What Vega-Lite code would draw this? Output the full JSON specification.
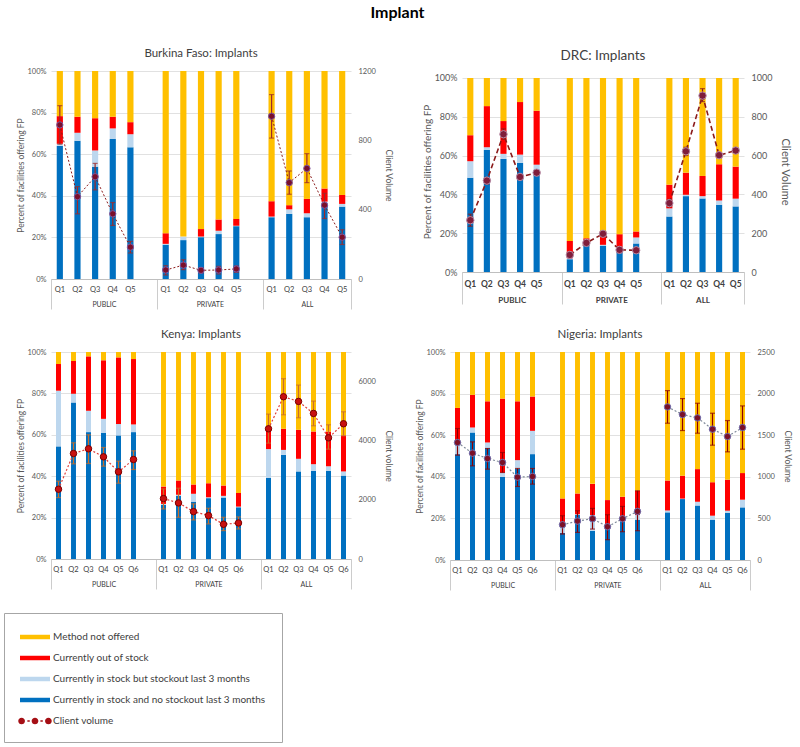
{
  "$schema": "https://vega.github.io/schema/vega-lite/v6.json",
  "background": "white",
  "padding": {"left": 3, "top": 4, "right": 3, "bottom": 2},
  "title": {"text": "Implant", "fontSize": 16, "fontWeight": "bold", "color": "#000000", "font": "Lato", "anchor": "middle", "offset": 27},
  "config": {
    "font": "Lato",
    "view": {"stroke": null},
    "axis": {"labelColor": "#595959", "titleColor": "#595959", "titleFontWeight": "normal", "domain": false, "ticks": false, "gridColor": "#D9D9D9", "gridWidth": 0.8, "labelFont": "Lato", "titleFont": "Lato", "labelOverlap": false},
    "title": {"color": "#595959", "fontWeight": "normal", "font": "Lato"}
  },
  "datasets": {
    "d": [
      {"c":"BF","g":"PUBLIC","k":"PUBLIC|Q1","b":64,"l":65,"r":78.3,"t":100,"cv":889,"lo":778,"hi":1000},
      {"c":"BF","g":"PUBLIC","k":"PUBLIC|Q2","b":66.5,"l":70.3,"r":78,"t":100,"cv":475,"lo":376,"hi":533},
      {"c":"BF","g":"PUBLIC","k":"PUBLIC|Q3","b":54,"l":61.8,"r":77.3,"t":100,"cv":590,"lo":514,"hi":667},
      {"c":"BF","g":"PUBLIC","k":"PUBLIC|Q4","b":67.3,"l":72.4,"r":78,"t":100,"cv":376,"lo":309,"hi":441},
      {"c":"BF","g":"PUBLIC","k":"PUBLIC|Q5","b":63.3,"l":69.6,"r":75.4,"t":100,"cv":184,"lo":150,"hi":217},
      {"c":"BF","g":"PRIVATE","k":"PRIVATE|Q1","b":16.5,"l":16.9,"r":22,"t":100,"cv":52,"lo":23,"hi":77},
      {"c":"BF","g":"PRIVATE","k":"PRIVATE|Q2","b":18.7,"l":20.4,"r":20.4,"t":100,"cv":80,"lo":54,"hi":111},
      {"c":"BF","g":"PRIVATE","k":"PRIVATE|Q3","b":20.1,"l":20.4,"r":24,"t":100,"cv":50,"lo":35,"hi":65},
      {"c":"BF","g":"PRIVATE","k":"PRIVATE|Q4","b":21.6,"l":23.2,"r":28.6,"t":100,"cv":52,"lo":29,"hi":73},
      {"c":"BF","g":"PRIVATE","k":"PRIVATE|Q5","b":25.4,"l":25.6,"r":28.9,"t":100,"cv":58,"lo":38,"hi":75},
      {"c":"BF","g":"ALL","k":"ALL|Q1","b":29.7,"l":30,"r":37.4,"t":100,"cv":939,"lo":813,"hi":1064},
      {"c":"BF","g":"ALL","k":"ALL|Q2","b":31.3,"l":33.5,"r":35.5,"t":100,"cv":556,"lo":489,"hi":623},
      {"c":"BF","g":"ALL","k":"ALL|Q3","b":29.7,"l":31.6,"r":38.5,"t":100,"cv":638,"lo":556,"hi":723},
      {"c":"BF","g":"ALL","k":"ALL|Q4","b":35.5,"l":37.2,"r":43.5,"t":100,"cv":426,"lo":349,"hi":494},
      {"c":"BF","g":"ALL","k":"ALL|Q5","b":34.8,"l":36.1,"r":40.4,"t":100,"cv":241,"lo":199,"hi":284},

      {"c":"DRC","g":"PUBLIC","k":"PUBLIC|Q1","b":48.6,"l":57.1,"r":70.5,"t":100,"cv":267,"lo":236,"hi":298},
      {"c":"DRC","g":"PUBLIC","k":"PUBLIC|Q2","b":62.9,"l":64.3,"r":85.5,"t":100,"cv":471,"lo":453,"hi":488},
      {"c":"DRC","g":"PUBLIC","k":"PUBLIC|Q3","b":58.3,"l":60.9,"r":77.8,"t":100,"cv":710,"lo":684,"hi":738},
      {"c":"DRC","g":"PUBLIC","k":"PUBLIC|Q4","b":56.2,"l":60.5,"r":87.6,"t":100,"cv":490,"lo":480,"hi":500},
      {"c":"DRC","g":"PUBLIC","k":"PUBLIC|Q5","b":52.2,"l":55.3,"r":83.1,"t":100,"cv":512,"lo":502,"hi":522},
      {"c":"DRC","g":"PRIVATE","k":"PRIVATE|Q1","b":6.6,"l":7.1,"r":16,"t":100,"cv":88,"lo":80,"hi":96},
      {"c":"DRC","g":"PRIVATE","k":"PRIVATE|Q2","b":14,"l":14.7,"r":17.4,"t":100,"cv":150,"lo":142,"hi":158},
      {"c":"DRC","g":"PRIVATE","k":"PRIVATE|Q3","b":13.6,"l":14,"r":20.2,"t":100,"cv":197,"lo":188,"hi":206},
      {"c":"DRC","g":"PRIVATE","k":"PRIVATE|Q4","b":11.7,"l":12.2,"r":19.5,"t":100,"cv":114,"lo":106,"hi":122},
      {"c":"DRC","g":"PRIVATE","k":"PRIVATE|Q5","b":14.7,"l":17.8,"r":20.9,"t":100,"cv":112,"lo":104,"hi":120},
      {"c":"DRC","g":"ALL","k":"ALL|Q1","b":28.6,"l":32.8,"r":45,"t":100,"cv":355,"lo":336,"hi":374},
      {"c":"DRC","g":"ALL","k":"ALL|Q2","b":39.1,"l":39.8,"r":51.2,"t":100,"cv":622,"lo":600,"hi":643},
      {"c":"DRC","g":"ALL","k":"ALL|Q3","b":37.9,"l":39.1,"r":49.5,"t":100,"cv":909,"lo":878,"hi":945},
      {"c":"DRC","g":"ALL","k":"ALL|Q4","b":34.7,"l":36.9,"r":55.5,"t":100,"cv":602,"lo":592,"hi":612},
      {"c":"DRC","g":"ALL","k":"ALL|Q5","b":33.8,"l":37.8,"r":54.3,"t":100,"cv":626,"lo":616,"hi":636},

      {"c":"KE","g":"PUBLIC","k":"PUBLIC|Q1","b":54.4,"l":81.3,"r":94.2,"t":100,"cv":2360,"lo":2077,"hi":2631},
      {"c":"KE","g":"PUBLIC","k":"PUBLIC|Q2","b":75.6,"l":79.8,"r":95.6,"t":100,"cv":3568,"lo":3218,"hi":3929},
      {"c":"KE","g":"PUBLIC","k":"PUBLIC|Q3","b":61.3,"l":71.6,"r":97.9,"t":100,"cv":3726,"lo":3229,"hi":4200},
      {"c":"KE","g":"PUBLIC","k":"PUBLIC|Q4","b":61,"l":67.7,"r":96,"t":100,"cv":3455,"lo":3139,"hi":3771},
      {"c":"KE","g":"PUBLIC","k":"PUBLIC|Q5","b":59.7,"l":65.2,"r":97.4,"t":100,"cv":2947,"lo":2563,"hi":3308},
      {"c":"KE","g":"PUBLIC","k":"PUBLIC|Q6","b":61.3,"l":65,"r":96.6,"t":100,"cv":3365,"lo":3026,"hi":3658},
      {"c":"KE","g":"PRIVATE","k":"PRIVATE|Q1","b":26.1,"l":26.6,"r":35,"t":100,"cv":2044,"lo":1694,"hi":2371},
      {"c":"KE","g":"PRIVATE","k":"PRIVATE|Q2","b":30.6,"l":31,"r":37.9,"t":100,"cv":1897,"lo":1411,"hi":2394},
      {"c":"KE","g":"PRIVATE","k":"PRIVATE|Q3","b":27.7,"l":31.5,"r":36,"t":100,"cv":1603,"lo":1321,"hi":1863},
      {"c":"KE","g":"PRIVATE","k":"PRIVATE|Q4","b":29.4,"l":29.8,"r":36.6,"t":100,"cv":1468,"lo":1186,"hi":1716},
      {"c":"KE","g":"PRIVATE","k":"PRIVATE|Q5","b":29.7,"l":30.5,"r":35.5,"t":100,"cv":1174,"lo":960,"hi":1411},
      {"c":"KE","g":"PRIVATE","k":"PRIVATE|Q6","b":25,"l":25.3,"r":31.9,"t":100,"cv":1219,"lo":1016,"hi":1423},
      {"c":"KE","g":"ALL","k":"ALL|Q1","b":39.2,"l":53.1,"r":63.7,"t":100,"cv":4403,"lo":3918,"hi":4900},
      {"c":"KE","g":"ALL","k":"ALL|Q2","b":50.3,"l":52.7,"r":62.9,"t":100,"cv":5487,"lo":4877,"hi":6097},
      {"c":"KE","g":"ALL","k":"ALL|Q3","b":42.3,"l":48.4,"r":62.4,"t":100,"cv":5329,"lo":4776,"hi":5882},
      {"c":"KE","g":"ALL","k":"ALL|Q4","b":42.6,"l":45.8,"r":61.6,"t":100,"cv":4923,"lo":4505,"hi":5340},
      {"c":"KE","g":"ALL","k":"ALL|Q5","b":42.6,"l":44.8,"r":61.6,"t":100,"cv":4098,"lo":3714,"hi":4539},
      {"c":"KE","g":"ALL","k":"ALL|Q6","b":40.3,"l":42.3,"r":59.7,"t":100,"cv":4573,"lo":4166,"hi":4979},

      {"c":"NG","g":"PUBLIC","k":"PUBLIC|Q1","b":50.9,"l":56.8,"r":73.1,"t":100,"cv":1412,"lo":1260,"hi":1580},
      {"c":"NG","g":"PUBLIC","k":"PUBLIC|Q2","b":61.3,"l":63.7,"r":79.4,"t":100,"cv":1284,"lo":1132,"hi":1420},
      {"c":"NG","g":"PUBLIC","k":"PUBLIC|Q3","b":53.8,"l":56.5,"r":76.3,"t":100,"cv":1220,"lo":1092,"hi":1340},
      {"c":"NG","g":"PUBLIC","k":"PUBLIC|Q4","b":40,"l":42,"r":77.6,"t":100,"cv":1172,"lo":1052,"hi":1292},
      {"c":"NG","g":"PUBLIC","k":"PUBLIC|Q5","b":44,"l":48,"r":76.3,"t":100,"cv":996,"lo":884,"hi":1100},
      {"c":"NG","g":"PUBLIC","k":"PUBLIC|Q6","b":50.9,"l":62.1,"r":78.6,"t":100,"cv":1004,"lo":912,"hi":1100},
      {"c":"NG","g":"PRIVATE","k":"PRIVATE|Q1","b":13,"l":16,"r":29.6,"t":100,"cv":424,"lo":312,"hi":532},
      {"c":"NG","g":"PRIVATE","k":"PRIVATE|Q2","b":21.6,"l":22,"r":32,"t":100,"cv":468,"lo":332,"hi":592},
      {"c":"NG","g":"PRIVATE","k":"PRIVATE|Q3","b":14,"l":21.6,"r":36.6,"t":100,"cv":496,"lo":372,"hi":620},
      {"c":"NG","g":"PRIVATE","k":"PRIVATE|Q4","b":15,"l":15.7,"r":28.8,"t":100,"cv":400,"lo":244,"hi":544},
      {"c":"NG","g":"PRIVATE","k":"PRIVATE|Q5","b":18.6,"l":19.7,"r":30.4,"t":100,"cv":496,"lo":340,"hi":644},
      {"c":"NG","g":"PRIVATE","k":"PRIVATE|Q6","b":19.4,"l":21.6,"r":33.3,"t":100,"cv":584,"lo":352,"hi":832},
      {"c":"NG","g":"ALL","k":"ALL|Q1","b":22.9,"l":23.8,"r":38.2,"t":100,"cv":1840,"lo":1644,"hi":2036},
      {"c":"NG","g":"ALL","k":"ALL|Q2","b":29.3,"l":29.5,"r":40.5,"t":100,"cv":1748,"lo":1556,"hi":1940},
      {"c":"NG","g":"ALL","k":"ALL|Q3","b":26.2,"l":28,"r":43.7,"t":100,"cv":1708,"lo":1524,"hi":1884},
      {"c":"NG","g":"ALL","k":"ALL|Q4","b":19.4,"l":21.3,"r":37.4,"t":100,"cv":1572,"lo":1380,"hi":1764},
      {"c":"NG","g":"ALL","k":"ALL|Q5","b":22.6,"l":23.7,"r":38.6,"t":100,"cv":1484,"lo":1300,"hi":1676},
      {"c":"NG","g":"ALL","k":"ALL|Q6","b":25.3,"l":29,"r":41.8,"t":100,"cv":1592,"lo":1332,"hi":1852}
    ]
  },
  "vconcat": [
    {
      "spacing": 29,
      "align": "none",
      "hconcat": [
        {
          "title": {"text": "Burkina Faso: Implants", "fontSize": 11.5, "offset": 8, "color": "#404040"},
          "width": 300, "height": 208,
          "data": {"name": "d"},
          "transform": [{"filter": "datum.c === 'BF'"}],
          "layer": [
            {
              "encoding": {"x": {"field": "k", "type": "ordinal",
                "scale": {"domain": ["PUBLIC|Q1","PUBLIC|Q2","PUBLIC|Q3","PUBLIC|Q4","PUBLIC|Q5","gap1","PRIVATE|Q1","PRIVATE|Q2","PRIVATE|Q3","PRIVATE|Q4","PRIVATE|Q5","gap2","ALL|Q1","ALL|Q2","ALL|Q3","ALL|Q4","ALL|Q5"], "paddingInner": 0.65, "paddingOuter": 0.325},
                "axis": {"title": null, "labelAngle": 0, "labelExpr": "indexof(datum.value, '|') > 0 ? substring(datum.value, indexof(datum.value, '|') + 1) : ''", "domain": true, "domainColor": "#BFBFBF", "ticks": false, "grid": false, "labelFontSize": 7.5, "labelPadding": 6, "labelColor": "#404040"}}},
              "layer": [
                {
                  "layer": [
                    {"mark": {"type": "bar"}, "encoding": {
                      "y": {"field": "b", "type": "quantitative", "scale": {"domain": [0, 100], "nice": false},
                        "axis": {"orient": "left", "title": "Percent of facilities  offering FP", "values": [0,10,20,30,40,50,60,70,80,90,100], "labelExpr": "datum.value + '%'", "grid": true, "labelFontSize": 7.5, "titleFontSize": 8.5, "labelPadding": 5, "titlePadding": 1}},
                      "color": {"datum": "Currently in stock and no stockout last 3 months", "type": "nominal",
                        "scale": {"domain": ["Method not offered", "Currently out of stock", "Currently in stock but stockout  last 3 months", "Currently in stock and no stockout last 3 months", "Client volume"], "range": ["#FFC000", "#FF0000", "#BDD7EE", "#0070C0", "#A50F15"]},
                        "legend": {"title": null, "orient": "none", "legendX": -47, "legendY": 542, "direction": "vertical", "strokeColor": "#A6A6A6", "padding": 16, "labelFontSize": 10, "labelColor": "#404040", "labelFont": "Lato", "labelLimit": 400, "symbolSize": 256, "symbolStrokeWidth": 0, "rowPadding": 8, "labelOffset": 17,
                          "encode": {"symbols": {"update": {"shape": {"signal": "datum.value === 'Client volume' ? 'M-1.22,0a0.42,0.42 0 1,0 0.84,0a0.42,0.42 0 1,0 -0.84,0Z M0.455,0a0.42,0.42 0 1,0 0.84,0a0.42,0.42 0 1,0 -0.84,0Z M2.13,0a0.42,0.42 0 1,0 0.84,0a0.42,0.42 0 1,0 -0.84,0Z M-0.08,-0.1h0.3v0.2h-0.3Z M1.55,-0.1h0.3v0.2h-0.3Z' : 'M-1,-0.28H2.75V0.28H-1Z'"}}}}}}}},
                    {"mark": {"type": "bar"}, "encoding": {"y": {"field": "l", "type": "quantitative"}, "y2": {"field": "b"}, "color": {"datum": "Currently in stock but stockout  last 3 months", "type": "nominal"}}},
                    {"mark": {"type": "bar"}, "encoding": {"y": {"field": "r", "type": "quantitative"}, "y2": {"field": "l"}, "color": {"datum": "Currently out of stock", "type": "nominal"}}},
                    {"mark": {"type": "bar"}, "encoding": {"y": {"field": "t", "type": "quantitative"}, "y2": {"field": "r"}, "color": {"datum": "Method not offered", "type": "nominal"}}}
                  ]
                },
                {
                  "layer": [
                    {"mark": {"type": "rule", "color": "#9C2A2A", "strokeWidth": 1.2}, "encoding": {
                      "y": {"field": "lo", "type": "quantitative", "scale": {"domain": [0, 1200], "nice": false},
                        "axis": {"orient": "right", "title": "Client Volume", "format": "d", "values": [0,200,400,600,800,1000,1200], "grid": false, "labelFontSize": 7.5, "titleFontSize": 8.5, "labelPadding": 7, "titlePadding": 8}},
                      "y2": {"field": "hi"}}},
                    {"mark": {"type": "tick", "color": "#9C2A2A", "size": 5, "thickness": 1.2}, "encoding": {"y": {"field": "lo", "type": "quantitative"}}},
                    {"mark": {"type": "tick", "color": "#9C2A2A", "size": 5, "thickness": 1.2}, "encoding": {"y": {"field": "hi", "type": "quantitative"}}},
                    {"mark": {"type": "line", "color": "#8B1A1A", "strokeDash": [2, 2], "strokeWidth": 1}, "encoding": {"y": {"field": "cv", "type": "quantitative"}, "detail": {"field": "g", "type": "nominal"}}},
                    {"mark": {"type": "point", "filled": true, "fill": "#7A0F2A", "stroke": "#7E57A0", "strokeWidth": 1, "size": 40, "opacity": 1}, "encoding": {"y": {"field": "cv", "type": "quantitative"}}}
                  ]
                }
              ],
              "resolve": {"scale": {"y": "independent"}}
            },
            {
              "mark": {"type": "rule", "opacity": 0},
              "encoding": {"x": {"datum": 0, "type": "quantitative", "scale": {"domain": [0, 17], "nice": false, "zero": false},
                "axis": {"orient": "bottom", "values": [0,3,6,9,12,14.5,17], "title": null, "grid": false, "domain": false, "ticks": true, "tickSize": 30, "tickColor": "#BFBFBF", "tickWidth": 0.8,
                  "tickOpacity": {"condition": {"test": "datum.value == 3 || datum.value == 9 || datum.value == 14.5", "value": 0}, "value": 1},
                  "labelExpr": "datum.value == 3 ? 'PUBLIC' : datum.value == 9 ? 'PRIVATE' : datum.value == 14.5 ? 'ALL' : ''",
                  "labelPadding": -9, "labelFlush": false, "labelFontSize": 7, "labelColor": "#404040"}}}
            }
          ],
          "resolve": {"scale": {"x": "independent"}}
        },
        {
          "title": {"text": "DRC: Implants", "fontSize": 13.5, "offset": 9, "color": "#404040"},
          "width": 282, "height": 201,
          "data": {"name": "d"},
          "transform": [{"filter": "datum.c === 'DRC'"}],
          "layer": [
            {
              "encoding": {"x": {"field": "k", "type": "ordinal",
                "scale": {"domain": ["PUBLIC|Q1","PUBLIC|Q2","PUBLIC|Q3","PUBLIC|Q4","PUBLIC|Q5","gap1","PRIVATE|Q1","PRIVATE|Q2","PRIVATE|Q3","PRIVATE|Q4","PRIVATE|Q5","gap2","ALL|Q1","ALL|Q2","ALL|Q3","ALL|Q4","ALL|Q5"], "paddingInner": 0.63, "paddingOuter": 0.315},
                "axis": {"title": null, "labelAngle": 0, "labelExpr": "indexof(datum.value, '|') > 0 ? substring(datum.value, indexof(datum.value, '|') + 1) : ''", "domain": true, "domainColor": "#BFBFBF", "ticks": false, "grid": false, "labelFontSize": 8.5, "labelFontWeight": "bold", "labelPadding": 7, "labelColor": "#404040"}}},
              "layer": [
                {
                  "layer": [
                    {"mark": {"type": "bar"}, "encoding": {
                      "y": {"field": "b", "type": "quantitative", "scale": {"domain": [0, 103.6], "nice": false},
                        "axis": {"orient": "left", "title": "Percent of facilities  offering FP", "values": [0,10,20,30,40,50,60,70,80,90,100], "labelExpr": "datum.value + '%'", "grid": true, "labelFontSize": 9, "titleFontSize": 10, "labelPadding": 5, "titlePadding": 2}},
                      "color": {"datum": "Currently in stock and no stockout last 3 months", "type": "nominal"}}},
                    {"mark": {"type": "bar"}, "encoding": {"y": {"field": "l", "type": "quantitative"}, "y2": {"field": "b"}, "color": {"datum": "Currently in stock but stockout  last 3 months", "type": "nominal"}}},
                    {"mark": {"type": "bar"}, "encoding": {"y": {"field": "r", "type": "quantitative"}, "y2": {"field": "l"}, "color": {"datum": "Currently out of stock", "type": "nominal"}}},
                    {"mark": {"type": "bar"}, "encoding": {"y": {"field": "t", "type": "quantitative"}, "y2": {"field": "r"}, "color": {"datum": "Method not offered", "type": "nominal"}}}
                  ]
                },
                {
                  "layer": [
                    {"mark": {"type": "rule", "color": "#8B1A1A", "strokeWidth": 1.2}, "encoding": {
                      "y": {"field": "lo", "type": "quantitative", "scale": {"domain": [0, 1036], "nice": false},
                        "axis": {"orient": "right", "title": "Client Volume", "format": "d", "values": [0,100,200,300,400,500,600,700,800,900,1000], "grid": false, "labelFontSize": 9, "titleFontSize": 11, "labelPadding": 7, "titlePadding": 8}},
                      "y2": {"field": "hi"}}},
                    {"mark": {"type": "tick", "color": "#8B1A1A", "size": 5, "thickness": 1.2}, "encoding": {"y": {"field": "lo", "type": "quantitative"}}},
                    {"mark": {"type": "tick", "color": "#8B1A1A", "size": 5, "thickness": 1.2}, "encoding": {"y": {"field": "hi", "type": "quantitative"}}},
                    {"mark": {"type": "line", "color": "#8B1A1A", "strokeDash": [5, 3], "strokeWidth": 1.6}, "encoding": {"y": {"field": "cv", "type": "quantitative"}, "detail": {"field": "g", "type": "nominal"}}},
                    {"mark": {"type": "point", "filled": true, "fill": "#7F1D3A", "stroke": "#B58AA5", "strokeWidth": 1, "size": 55, "opacity": 1}, "encoding": {"y": {"field": "cv", "type": "quantitative"}}}
                  ]
                }
              ],
              "resolve": {"scale": {"y": "independent"}}
            },
            {
              "mark": {"type": "rule", "opacity": 0},
              "encoding": {"x": {"datum": 0, "type": "quantitative", "scale": {"domain": [0, 17], "nice": false, "zero": false},
                "axis": {"orient": "bottom", "values": [0,3,6,9,12,14.5,17], "title": null, "grid": false, "domain": false, "ticks": true, "tickSize": 32, "tickColor": "#BFBFBF", "tickWidth": 0.8,
                  "tickOpacity": {"condition": {"test": "datum.value == 3 || datum.value == 9 || datum.value == 14.5", "value": 0}, "value": 1},
                  "labelExpr": "datum.value == 3 ? 'PUBLIC' : datum.value == 9 ? 'PRIVATE' : datum.value == 14.5 ? 'ALL' : ''",
                  "labelPadding": -8, "labelFlush": false, "labelFontSize": 8, "labelFontWeight": "bold", "labelColor": "#404040"}}}
            }
          ],
          "resolve": {"scale": {"x": "independent"}}
        }
      ]
    },
    {
      "spacing": 22,
      "hconcat": [
        {
          "title": {"text": "Kenya: Implants", "fontSize": 11.5, "offset": 8, "color": "#404040"},
          "width": 300, "height": 207,
          "data": {"name": "d"},
          "transform": [{"filter": "datum.c === 'KE'"}],
          "layer": [
            {
              "encoding": {"x": {"field": "k", "type": "ordinal",
                "scale": {"domain": ["PUBLIC|Q1","PUBLIC|Q2","PUBLIC|Q3","PUBLIC|Q4","PUBLIC|Q5","PUBLIC|Q6","gap1","PRIVATE|Q1","PRIVATE|Q2","PRIVATE|Q3","PRIVATE|Q4","PRIVATE|Q5","PRIVATE|Q6","gap2","ALL|Q1","ALL|Q2","ALL|Q3","ALL|Q4","ALL|Q5","ALL|Q6"], "paddingInner": 0.67, "paddingOuter": 0.335},
                "axis": {"title": null, "labelAngle": 0, "labelExpr": "indexof(datum.value, '|') > 0 ? substring(datum.value, indexof(datum.value, '|') + 1) : ''", "domain": true, "domainColor": "#BFBFBF", "ticks": false, "grid": false, "labelFontSize": 7.5, "labelPadding": 6, "labelColor": "#404040"}}},
              "layer": [
                {
                  "layer": [
                    {"mark": {"type": "bar"}, "encoding": {
                      "y": {"field": "b", "type": "quantitative", "scale": {"domain": [0, 100], "nice": false},
                        "axis": {"orient": "left", "title": "Percent of facilities  offering FP", "values": [0,10,20,30,40,50,60,70,80,90,100], "labelExpr": "datum.value + '%'", "grid": true, "labelFontSize": 7.5, "titleFontSize": 8.5, "labelPadding": 5, "titlePadding": 1}},
                      "color": {"datum": "Currently in stock and no stockout last 3 months", "type": "nominal"}}},
                    {"mark": {"type": "bar"}, "encoding": {"y": {"field": "l", "type": "quantitative"}, "y2": {"field": "b"}, "color": {"datum": "Currently in stock but stockout  last 3 months", "type": "nominal"}}},
                    {"mark": {"type": "bar"}, "encoding": {"y": {"field": "r", "type": "quantitative"}, "y2": {"field": "l"}, "color": {"datum": "Currently out of stock", "type": "nominal"}}},
                    {"mark": {"type": "bar"}, "encoding": {"y": {"field": "t", "type": "quantitative"}, "y2": {"field": "r"}, "color": {"datum": "Method not offered", "type": "nominal"}}}
                  ]
                },
                {
                  "layer": [
                    {"mark": {"type": "rule", "color": "#C86E2A", "strokeWidth": 1.2}, "encoding": {
                      "y": {"field": "lo", "type": "quantitative", "scale": {"domain": [0, 7000], "nice": false},
                        "axis": {"orient": "right", "title": "Client volume", "format": "d", "values": [0,1000,2000,3000,4000,5000,6000,7000], "grid": false, "labelFontSize": 7.5, "titleFontSize": 8.5, "labelPadding": 7, "titlePadding": 8}},
                      "y2": {"field": "hi"}}},
                    {"mark": {"type": "tick", "color": "#C86E2A", "size": 5, "thickness": 1.2}, "encoding": {"y": {"field": "lo", "type": "quantitative"}}},
                    {"mark": {"type": "tick", "color": "#C86E2A", "size": 5, "thickness": 1.2}, "encoding": {"y": {"field": "hi", "type": "quantitative"}}},
                    {"mark": {"type": "line", "color": "#E0403A", "strokeDash": [2, 2], "strokeWidth": 1.2}, "encoding": {"y": {"field": "cv", "type": "quantitative"}, "detail": {"field": "g", "type": "nominal"}}},
                    {"mark": {"type": "point", "filled": true, "fill": "#C81010", "stroke": "#7A0000", "strokeWidth": 1, "size": 42, "opacity": 1}, "encoding": {"y": {"field": "cv", "type": "quantitative"}}}
                  ]
                }
              ],
              "resolve": {"scale": {"y": "independent"}}
            },
            {
              "mark": {"type": "rule", "opacity": 0},
              "encoding": {"x": {"datum": 0, "type": "quantitative", "scale": {"domain": [0, 20], "nice": false, "zero": false},
                "axis": {"orient": "bottom", "values": [0,3.5,7,10.5,14,17,20], "title": null, "grid": false, "domain": false, "ticks": true, "tickSize": 30, "tickColor": "#BFBFBF", "tickWidth": 0.8,
                  "tickOpacity": {"condition": {"test": "datum.value == 3.5 || datum.value == 10.5 || datum.value == 17", "value": 0}, "value": 1},
                  "labelExpr": "datum.value == 3.5 ? 'PUBLIC' : datum.value == 10.5 ? 'PRIVATE' : datum.value == 17 ? 'ALL' : ''",
                  "labelPadding": -9, "labelFlush": false, "labelFontSize": 7, "labelColor": "#404040"}}}
            }
          ],
          "resolve": {"scale": {"x": "independent"}}
        },
        {
          "title": {"text": "Nigeria: Implants", "fontSize": 11.5, "offset": 8, "color": "#404040"},
          "width": 300, "height": 208,
          "data": {"name": "d"},
          "transform": [{"filter": "datum.c === 'NG'"}],
          "layer": [
            {
              "encoding": {"x": {"field": "k", "type": "ordinal",
                "scale": {"domain": ["PUBLIC|Q1","PUBLIC|Q2","PUBLIC|Q3","PUBLIC|Q4","PUBLIC|Q5","PUBLIC|Q6","gap1","PRIVATE|Q1","PRIVATE|Q2","PRIVATE|Q3","PRIVATE|Q4","PRIVATE|Q5","PRIVATE|Q6","gap2","ALL|Q1","ALL|Q2","ALL|Q3","ALL|Q4","ALL|Q5","ALL|Q6"], "paddingInner": 0.67, "paddingOuter": 0.335},
                "axis": {"title": null, "labelAngle": 0, "labelExpr": "indexof(datum.value, '|') > 0 ? substring(datum.value, indexof(datum.value, '|') + 1) : ''", "domain": true, "domainColor": "#BFBFBF", "ticks": false, "grid": false, "labelFontSize": 7.5, "labelPadding": 6, "labelColor": "#404040"}}},
              "layer": [
                {
                  "layer": [
                    {"mark": {"type": "bar"}, "encoding": {
                      "y": {"field": "b", "type": "quantitative", "scale": {"domain": [0, 100], "nice": false},
                        "axis": {"orient": "left", "title": "Percent of facilities  offering FP", "values": [0,10,20,30,40,50,60,70,80,90,100], "labelExpr": "datum.value + '%'", "grid": true, "labelFontSize": 7.5, "titleFontSize": 8.5, "labelPadding": 5, "titlePadding": 1}},
                      "color": {"datum": "Currently in stock and no stockout last 3 months", "type": "nominal"}}},
                    {"mark": {"type": "bar"}, "encoding": {"y": {"field": "l", "type": "quantitative"}, "y2": {"field": "b"}, "color": {"datum": "Currently in stock but stockout  last 3 months", "type": "nominal"}}},
                    {"mark": {"type": "bar"}, "encoding": {"y": {"field": "r", "type": "quantitative"}, "y2": {"field": "l"}, "color": {"datum": "Currently out of stock", "type": "nominal"}}},
                    {"mark": {"type": "bar"}, "encoding": {"y": {"field": "t", "type": "quantitative"}, "y2": {"field": "r"}, "color": {"datum": "Method not offered", "type": "nominal"}}}
                  ]
                },
                {
                  "layer": [
                    {"mark": {"type": "rule", "color": "#8B0000", "strokeWidth": 1.2}, "encoding": {
                      "y": {"field": "lo", "type": "quantitative", "scale": {"domain": [0, 2500], "nice": false},
                        "axis": {"orient": "right", "title": "Client Volume", "format": "d", "values": [0,500,1000,1500,2000,2500], "grid": false, "labelFontSize": 7.5, "titleFontSize": 8.5, "labelPadding": 7, "titlePadding": 8}},
                      "y2": {"field": "hi"}}},
                    {"mark": {"type": "tick", "color": "#8B0000", "size": 5, "thickness": 1.2}, "encoding": {"y": {"field": "lo", "type": "quantitative"}}},
                    {"mark": {"type": "tick", "color": "#8B0000", "size": 5, "thickness": 1.2}, "encoding": {"y": {"field": "hi", "type": "quantitative"}}},
                    {"mark": {"type": "line", "color": "#7F8A9A", "strokeDash": [2, 2], "strokeWidth": 1.2}, "encoding": {"y": {"field": "cv", "type": "quantitative"}, "detail": {"field": "g", "type": "nominal"}}},
                    {"mark": {"type": "point", "filled": true, "fill": "#7B1026", "stroke": "#7070B0", "strokeWidth": 1, "size": 42, "opacity": 1}, "encoding": {"y": {"field": "cv", "type": "quantitative"}}}
                  ]
                }
              ],
              "resolve": {"scale": {"y": "independent"}}
            },
            {
              "mark": {"type": "rule", "opacity": 0},
              "encoding": {"x": {"datum": 0, "type": "quantitative", "scale": {"domain": [0, 20], "nice": false, "zero": false},
                "axis": {"orient": "bottom", "values": [0,3.5,7,10.5,14,17,20], "title": null, "grid": false, "domain": false, "ticks": true, "tickSize": 30, "tickColor": "#BFBFBF", "tickWidth": 0.8,
                  "tickOpacity": {"condition": {"test": "datum.value == 3.5 || datum.value == 10.5 || datum.value == 17", "value": 0}, "value": 1},
                  "labelExpr": "datum.value == 3.5 ? 'PUBLIC' : datum.value == 10.5 ? 'PRIVATE' : datum.value == 17 ? 'ALL' : ''",
                  "labelPadding": -9, "labelFlush": false, "labelFontSize": 7, "labelColor": "#404040"}}}
            }
          ],
          "resolve": {"scale": {"x": "independent"}}
        }
      ]
    }
  ],
  "spacing": 18
}
